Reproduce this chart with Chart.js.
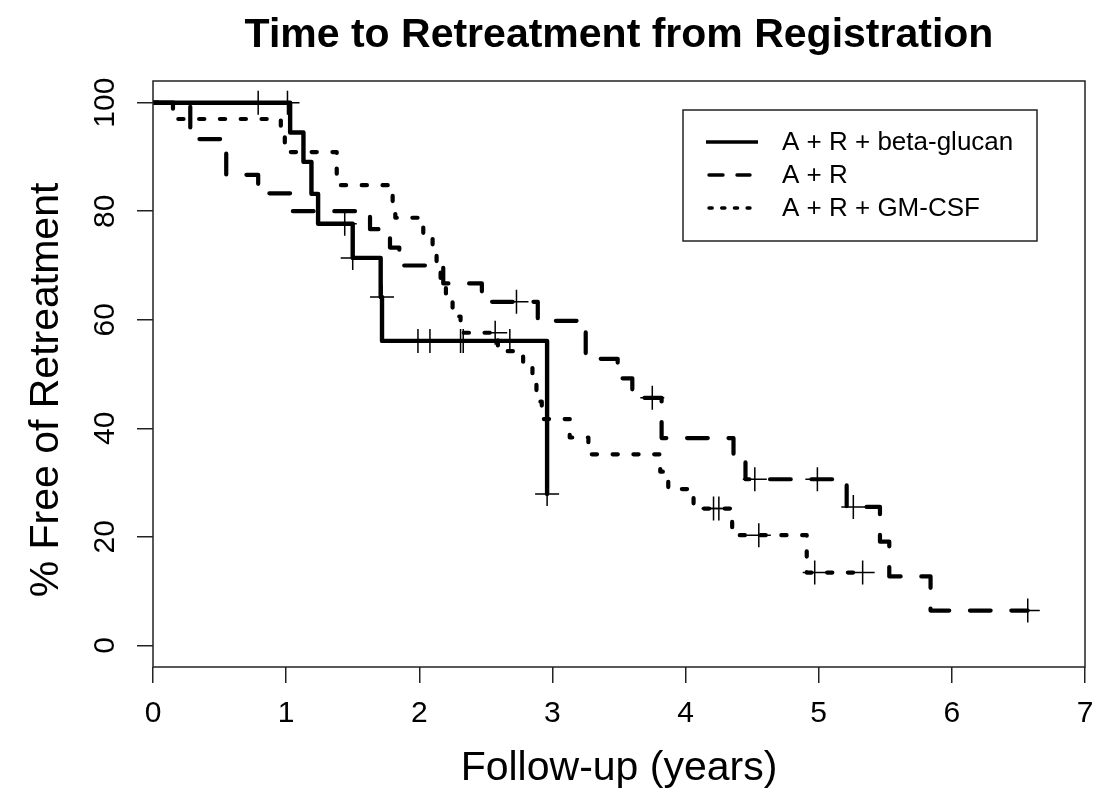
<!DOCTYPE html>
<html>
<head>
<meta charset="utf-8">
<script src="https://cdn.jsdelivr.net/npm/chart.js@4.4.1/dist/chart.umd.min.js"></script>
<style>
  html, body { margin: 0; padding: 0; background: #ffffff; }
  #wrap { width: 1095px; height: 791px; }
</style>
</head>
<body>
<div id="wrap"><canvas id="c" width="1095" height="791"></canvas></div>
<script>
// ---------------- data ----------------
const chartTitle = 'Time to Retreatment from Registration';
const xTitle = 'Follow-up (years)';
const yTitle = '% Free of Retreatment';
const xTicks = [0, 1, 2, 3, 4, 5, 6, 7];
const yTicks = [0, 20, 40, 60, 80, 100];
const yTickLabels = ['0', '20', '40', '60', '80', '100'];
const seriesNames = ['A + R + beta-glucan', 'A + R', 'A + R + GM-CSF'];

// A + R + beta-glucan (solid)
const betaTime = [0, 1.03, 1.13, 1.19, 1.24, 1.50, 1.71, 1.72, 2.96];
const betaSurv = [100, 94.5, 89.1, 83.2, 77.7, 71.4, 64.2, 56.1, 27.9];
const betaCensorTime = [0.79, 1.01, 1.44, 1.50, 1.72, 1.99, 2.08, 2.31, 2.33, 2.68, 2.96];
const betaCensorSurv = [100, 100, 77.7, 71.4, 64.2, 56.1, 56.1, 56.1, 56.1, 56.1, 27.9];

// A + R (dashed)
const arTime = [0, 0.28, 0.55, 0.79, 1.03, 1.63, 1.78, 1.85, 2.18, 2.47, 2.89, 3.25, 3.49, 3.60, 3.82, 4.36, 4.45, 5.21, 5.46, 5.53, 5.84, 6.57];
const arSurv = [100, 93.3, 86.7, 83.3, 80.0, 76.7, 73.3, 70.0, 66.7, 63.3, 59.8, 52.8, 49.2, 45.6, 38.2, 34.6, 30.6, 25.5, 19.1, 12.7, 6.4, 6.4];
const arCensorTime = [2.73, 3.75, 4.52, 4.99, 5.26, 6.57];
const arCensorSurv = [63.3, 45.6, 30.6, 30.6, 25.5, 6.4];

// A + R + GM-CSF (dotted)
const gmTime = [0, 0.15, 0.96, 0.99, 1.38, 1.80, 1.82, 2.03, 2.10, 2.13, 2.16, 2.20, 2.25, 2.31, 2.59, 2.78, 2.85, 2.88, 2.92, 3.13, 3.27, 3.81, 3.87, 4.06, 4.35, 4.91, 5.33];
const gmSurv = [100, 97.0, 93.9, 90.9, 84.8, 81.8, 78.8, 75.8, 72.7, 69.7, 66.7, 63.6, 60.6, 57.6, 54.2, 51.1, 48.0, 44.9, 41.7, 38.3, 35.2, 32.0, 28.8, 25.2, 20.3, 13.4, 13.4];
const gmCensorTime = [2.57, 4.21, 4.25, 4.55, 4.97, 5.33];
const gmCensorSurv = [57.6, 25.2, 25.2, 20.3, 13.4, 13.4];

// ---------------- styles ----------------
const FONT = "'Liberation Sans', Arial, Helvetica, sans-serif";
const INK = '#000000';
const FRAME = '#222222';
const lineStyles = [
  { dash: [], width: 4.4, legendDash: [], legendWidth: 3.6 },
  { dash: [20.7, 20.7], width: 4.2, legendDash: [14, 14], legendWidth: 3.4 },
  { dash: [5.2, 15.6], width: 4.2, legendDash: [3.2, 9.5], legendWidth: 3.4 }
];

const toPts = (xs, ys) => xs.map((x, i) => ({ x: x, y: ys[i] }));

function curve(name, xs, ys, st) {
  return {
    label: name,
    data: toPts(xs, ys),
    stepped: 'before',
    showLine: true,
    borderColor: INK,
    backgroundColor: INK,
    borderWidth: st.width,
    borderDash: st.dash,
    borderCapStyle: 'round',
    borderJoinStyle: 'round',
    pointRadius: 0,
    fill: false,
    tension: 0
  };
}
function censor(name, xs, ys) {
  return {
    label: name + ' (censored)',
    data: toPts(xs, ys),
    showLine: false,
    pointStyle: 'cross',
    pointRadius: 12,
    pointBorderWidth: 1.5,
    pointBorderColor: INK,
    borderColor: INK,
    backgroundColor: INK
  };
}

const datasets = [
  curve(seriesNames[0], betaTime, betaSurv, lineStyles[0]),
  curve(seriesNames[1], arTime, arSurv, lineStyles[1]),
  curve(seriesNames[2], gmTime, gmSurv, lineStyles[2]),
  censor(seriesNames[0], betaCensorTime, betaCensorSurv),
  censor(seriesNames[1], arCensorTime, arCensorSurv),
  censor(seriesNames[2], gmCensorTime, gmCensorSurv)
];

// ---------------- extra drawing: frame, rotated y labels, titles, legend ----------------
const decor = {
  id: 'decor',
  afterDraw(chart) {
    const { ctx, chartArea: a, scales } = chart;
    ctx.save();
    // plot frame
    ctx.strokeStyle = FRAME;
    ctx.lineWidth = 1.5;
    ctx.setLineDash([]);
    ctx.strokeRect(a.left, a.top, a.right - a.left, a.bottom - a.top);

    // rotated y tick labels
    ctx.fillStyle = INK;
    ctx.font = '30px ' + FONT;
    scales.y.ticks.forEach((t, i) => {
      const py = scales.y.getPixelForValue(t.value);
      ctx.save();
      ctx.translate(a.left - 39, py);
      ctx.rotate(-Math.PI / 2);
      ctx.textAlign = 'center';
      ctx.textBaseline = 'alphabetic';
      ctx.fillText(yTickLabels[i], 0, 0);
      ctx.restore();
    });

    // y axis title (rotated)
    ctx.save();
    ctx.font = '41px ' + FONT;
    ctx.translate(58, (a.top + a.bottom) / 2 + 16);
    ctx.rotate(-Math.PI / 2);
    ctx.textAlign = 'center';
    ctx.textBaseline = 'alphabetic';
    ctx.fillText(yTitle, 0, 0);
    ctx.restore();

    // main title
    ctx.font = 'bold 41px ' + FONT;
    ctx.textAlign = 'center';
    ctx.textBaseline = 'alphabetic';
    ctx.fillText(chartTitle, (a.left + a.right) / 2, 47);

    // legend box
    const bx = a.right - 402, by = a.top + 29, bw = 354, bh = 131;
    ctx.strokeStyle = FRAME;
    ctx.lineWidth = 1.5;
    ctx.strokeRect(bx, by, bw, bh);
    ctx.font = '26px ' + FONT;
    ctx.textAlign = 'left';
    seriesNames.forEach((name, i) => {
      const st = lineStyles[i];
      const ly = by + 32 + i * 33;
      ctx.beginPath();
      ctx.strokeStyle = INK;
      ctx.lineWidth = st.legendWidth;
      ctx.setLineDash(st.legendDash);
      ctx.lineCap = st.legendDash.length ? 'round' : 'butt';
      ctx.moveTo(bx + (st.legendDash.length ? 26 : 23), ly);
      ctx.lineTo(bx + (st.legendDash.length ? 67 : 75), ly);
      ctx.stroke();
      ctx.setLineDash([]);
      ctx.fillStyle = INK;
      ctx.fillText(name, bx + 99, ly + 8);
    });
    ctx.restore();
  }
};

Chart.defaults.font.family = FONT;

new Chart(document.getElementById('c'), {
  type: 'line',
  data: { datasets: datasets },
  options: {
    responsive: false,
    animation: false,
    devicePixelRatio: 1,
    layout: { autoPadding: false, padding: { left: 0, right: 10, top: 81, bottom: 0 } },
    plugins: {
      legend: { display: false },
      title: { display: false },
      tooltip: { enabled: false }
    },
    scales: {
      x: {
        type: 'linear',
        position: 'bottom',
        min: 0,
        max: 7,
        afterBuildTicks: s => { s.ticks = xTicks.map(v => ({ value: v })); },
        afterFit: s => { s.height = 124; s.paddingLeft = 0; s.paddingRight = 0; },
        border: { display: false },
        grid: { drawOnChartArea: false, drawTicks: true, tickLength: 16, color: FRAME, lineWidth: 1.5 },
        ticks: { color: INK, font: { size: 30 }, padding: 13, maxRotation: 0, autoSkip: false },
        title: { display: true, text: xTitle, color: INK, font: { size: 41, lineHeight: 1 }, padding: { top: 0, bottom: 1.5 } }
      },
      y: {
        type: 'linear',
        position: 'left',
        min: -4,
        max: 104,
        afterBuildTicks: s => { s.ticks = yTicks.map(v => ({ value: v })); },
        afterFit: s => { s.width = 153; s.paddingTop = 0; s.paddingBottom = 0; },
        border: { display: false },
        grid: { drawOnChartArea: false, drawTicks: true, tickLength: 16, color: FRAME, lineWidth: 1.5 },
        ticks: { display: false },
        title: { display: false }
      }
    }
  },
  plugins: [decor]
});
</script>
</body>
</html>
